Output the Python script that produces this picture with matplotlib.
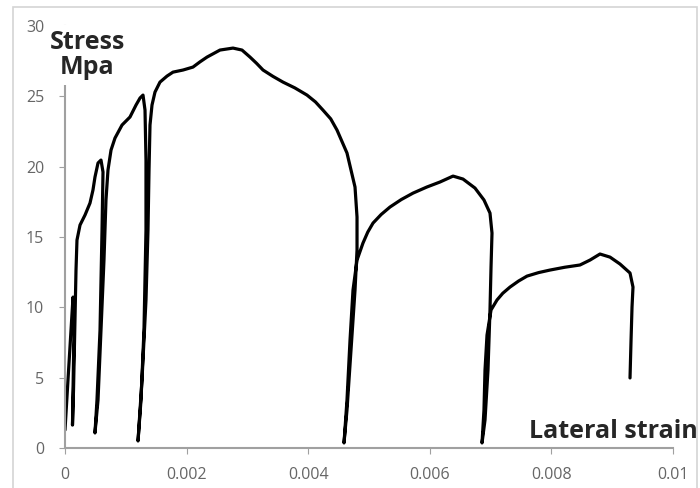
import matplotlib
matplotlib.use("Agg")
import numpy as np
from matplotlib import pyplot as plt
from matplotlib.patches import Rectangle

# cyclic loading curve: lateral strain vs stress (MPa)
strain = [0.0, 0.000049, 0.000099, 0.000132, 0.000148, 0.000132, 0.000123,
          0.00014, 0.000164, 0.000181, 0.000197, 0.000247, 0.000329, 0.000411,
          0.00046, 0.000493, 0.000543, 0.000592, 0.000625,
          0.000609, 0.000576, 0.000526, 0.000493,
          0.000543, 0.000592, 0.000641, 0.000674, 0.000707, 0.000757, 0.000822,
          0.000938, 0.001069, 0.001168, 0.001234, 0.001283, 0.001316,
          0.001332, 0.001332, 0.001299, 0.00125, 0.001201,
          0.001266, 0.001332, 0.001365, 0.001382, 0.001398, 0.001431, 0.00148,
          0.001562, 0.001678, 0.001776, 0.001941, 0.002105, 0.00222, 0.002336,
          0.002549, 0.002763, 0.002911, 0.003043, 0.00315, 0.003257, 0.00342,
          0.003586, 0.00378, 0.00398, 0.00412, 0.004243, 0.00437,
          0.004474, 0.004638, 0.00477, 0.004803, 0.004803,
          0.00477, 0.004704, 0.004638, 0.004589,
          0.004638, 0.004688, 0.004737, 0.004803, 0.004901, 0.00498, 0.005066,
          0.0052, 0.005345, 0.00553, 0.005724, 0.00595, 0.006168, 0.006382,
          0.006546, 0.006743, 0.006891, 0.00699,
          0.007023, 0.007007, 0.00699,
          0.006957, 0.006908, 0.006859,
          0.006891, 0.006908, 0.006941, 0.007007, 0.007105, 0.0072, 0.007319,
          0.00746, 0.007599, 0.00779, 0.007977, 0.00822, 0.00847, 0.008635,
          0.008799, 0.008964, 0.009128, 0.009293,
          0.009342, 0.009326, 0.00931, 0.009293]
stress = [1.28, 4.83, 8.39, 10.73, 8.39, 4.12, 1.63,
          4.12, 9.10, 12.65, 14.78, 15.85, 16.56, 17.41,
          18.34, 19.26, 20.26, 20.47, 19.62,
          15.49, 8.39, 3.41, 1.07,
          3.41, 8.39, 13.36, 17.63, 19.76, 21.18, 22.03,
          22.96, 23.53, 24.38, 24.88, 25.09, 24.02,
          20.47, 15.49, 8.39, 3.41, 0.50,
          4.83, 10.52, 15.49, 19.76, 22.96, 24.38, 25.30,
          26.01, 26.44, 26.72, 26.87, 27.08, 27.45, 27.79,
          28.29, 28.43, 28.29, 27.79, 27.35, 26.87, 26.42,
          26.01, 25.6, 25.09, 24.6, 24.02, 23.4,
          22.60, 20.97, 18.55, 16.42, 14.07,
          11.23, 6.97, 2.70, 0.36,
          3.41, 7.68, 11.23, 13.36, 14.57, 15.35, 15.99,
          16.6, 17.13, 17.66, 18.12, 18.55, 18.91, 19.33,
          19.12, 18.48, 17.63, 16.70,
          15.28, 12.86, 9.81,
          5.54, 1.99, 0.36,
          2.70, 5.54, 8.03, 9.81, 10.52, 11.0, 11.44,
          11.87, 12.22, 12.47, 12.65, 12.85, 13.01, 13.36,
          13.79, 13.57, 13.08, 12.44,
          11.44, 10.02, 7.68, 4.98]

x_ticks = [0, 0.002, 0.004, 0.006, 0.008, 0.01]
x_labels = ["0", "0.002", "0.004", "0.006", "0.008", "0.01"]
y_ticks = [0, 5, 10, 15, 20, 25, 30]

plt.rcParams['font.family'] = ['Open Sans', 'DejaVu Sans']

fig = plt.figure(figsize=(7, 4.88), dpi=100)
fig.patches.append(Rectangle((13 / 700, -0.01), 684 / 700, 1 - 7 / 488 + 0.01,
                             transform=fig.transFigure, fill=False,
                             edgecolor="#d4d4d4", linewidth=1.2))
ax = fig.add_axes([65 / 700, 40 / 488, 608 / 700, 422 / 488])

ax.plot(strain, stress, color="black", linewidth=2.3,
        solid_joinstyle="round", solid_capstyle="round")

ax.set_xlim(0, 0.01)
ax.set_ylim(0, 30)
ax.set_xticks(x_ticks)
ax.set_xticklabels(x_labels)
ax.set_yticks(y_ticks)
for s in ["top", "right"]:
    ax.spines[s].set_visible(False)
for s in ["left", "bottom"]:
    ax.spines[s].set_color("#a0a0a0")
    ax.spines[s].set_linewidth(1.5)
ax.tick_params(axis="both", direction="out", length=4, color="#a0a0a0",
               labelcolor="#666666", labelsize=11.5)
ax.tick_params(axis="x", pad=10)
ax.tick_params(axis="y", pad=11)

# axis titles placed inside the plot area; the y title sits on a white box
title_kw = dict(fontsize=18, fontweight="bold", color="#262626",
                va="center", clip_on=False, zorder=5)
ax.text(0.00037, 27.93, "Stress\nMpa", ha="center", multialignment="center",
        linespacing=0.97,
        bbox=dict(facecolor="white", edgecolor="none", pad=4), **title_kw)
ax.text(0.01041, 1.14, "Lateral strain", ha="right", **title_kw)

fig.savefig("out.png", dpi=100)
